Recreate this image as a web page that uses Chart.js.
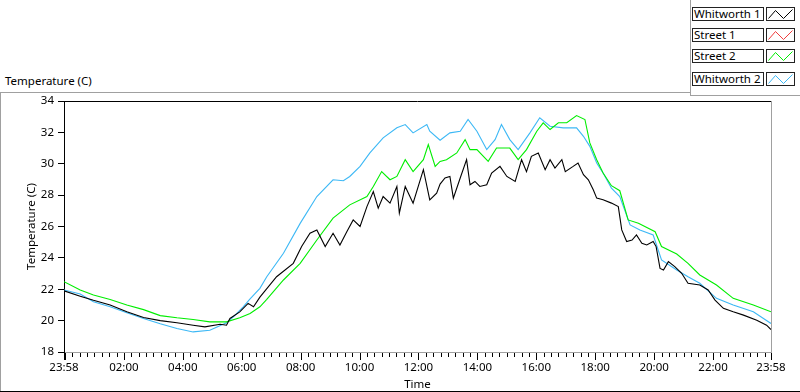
<!DOCTYPE html>
<html>
<head>
<meta charset="utf-8">
<script src="https://cdn.jsdelivr.net/npm/chart.js@4.4.1/dist/chart.umd.min.js"></script>
<style>
  body { margin: 0; background: #fff; font-family: "Noto Sans", sans-serif; font-size: 11.5px; color: #000; }
  #wrap { position: relative; width: 800px; height: 392px; overflow: hidden; }
  #wrap canvas { position: absolute; left: 0; top: 0; }
  .ln { position: absolute; }
  #caption { position: absolute; left: 5px; top: 74px; line-height: 14px; }
  .lgLabel { position: absolute; left: 692px; width: 69px; height: 12px; border: 1px solid #222; line-height: 12px; padding-left: 1px; box-sizing: content-box; white-space: nowrap; overflow: hidden; background: #fff; }
  .lgSwatch { position: absolute; left: 766px; width: 27px; height: 12px; border: 1px solid #222; background: #fff; }
</style>
</head>
<body>
<div id="wrap">
  <div class="ln" style="left:0;top:92px;width:690px;height:1px;background:#a0a0a0"></div>
  <div class="ln" style="left:0;top:92px;width:1px;height:299px;background:#a0a0a0"></div>
  <div class="ln" style="left:0;top:391px;width:800px;height:1px;background:#000"></div>
  <div class="ln" style="left:690px;top:0;width:1px;height:96px;background:#a0a0a0"></div>
  <div class="ln" style="left:690px;top:95px;width:110px;height:1px;background:#a0a0a0"></div>
  <div id="caption">Temperature (C)</div>
  <div id="legend"></div>
  <canvas id="chartTemp" width="800" height="392"></canvas>
</div>
<script>
// minutes after 23:58 (start of the record) and readings in deg C
const whitworth1Min = [0,33,60,94,128,162,196,230,263,287,318,331,338,358,375,386,399,433,467,484,501,515,532,548,562,576,589,603,617,630,640,650,664,678,683,695,711,732,745,759,766,776,786,793,807,820,827,837,847,861,871,888,902,919,932,942,952,966,980,990,1000,1014,1021,1037,1047,1058,1068,1078,1085,1098,1115,1129,1136,1146,1157,1166,1177,1187,1200,1206,1214,1221,1231,1244,1258,1271,1295,1312,1326,1343,1363,1384,1411,1431,1440]
const whitworth1Temp = [21.9,21.56,21.3,21.0,20.56,20.2,20.0,19.86,19.71,19.6,19.77,19.71,20.14,20.56,21.1,20.88,21.5,22.8,23.65,24.72,25.57,25.78,24.72,25.57,24.82,25.67,26.42,26.0,27.27,28.23,27.17,27.91,27.49,28.55,26.85,28.55,27.49,29.62,27.7,28.13,28.7,29.09,29.19,27.81,29.09,30.26,28.66,28.87,28.55,28.66,29.41,29.83,29.19,28.87,30.26,29.5,30.47,30.69,29.62,30.26,29.73,30.26,29.5,29.83,30.05,29.3,28.98,28.34,27.81,27.7,27.49,27.27,25.78,25.04,25.14,25.46,24.93,24.82,25.04,24.72,23.33,23.23,23.76,23.44,23.02,22.38,22.27,21.95,21.31,20.78,20.56,20.35,20.03,19.71,19.43]

// Street 1 has no trace in the plot
const street1Min = []
const street1Temp = []

const street2Min = [0,33,60,94,128,162,196,230,263,297,331,358,379,399,413,447,481,515,548,582,617,630,647,664,678,695,711,732,742,756,766,779,800,817,827,841,864,881,908,925,942,963,976,990,1007,1024,1044,1061,1071,1085,1098,1115,1132,1149,1170,1204,1217,1248,1271,1295,1329,1363,1404,1440]
const street2Temp = [22.48,21.95,21.63,21.35,21.0,20.7,20.32,20.18,20.07,19.92,19.92,20.18,20.46,20.88,21.35,22.59,23.65,25.14,26.53,27.38,27.91,28.55,29.5,28.98,29.19,30.26,29.5,30.26,31.22,29.83,30.15,30.26,30.69,31.54,30.9,30.9,30.15,31.0,31.0,30.26,30.9,32.07,32.61,32.18,32.61,32.61,33.07,32.82,31.33,30.26,29.41,28.6,28.28,26.42,26.21,25.67,24.72,24.25,23.65,22.91,22.27,21.42,21.0,20.56]

const whitworth2Min = [0,33,60,94,128,162,196,230,263,297,331,345,365,379,399,413,447,481,515,548,569,582,603,623,650,678,695,711,739,745,766,786,807,823,841,861,878,891,908,925,949,969,990,1017,1044,1058,1071,1085,1092,1098,1115,1132,1153,1173,1200,1217,1248,1271,1295,1329,1363,1404,1440]
const whitworth2Temp = [21.95,21.7,21.2,20.88,20.5,20.14,19.8,19.5,19.28,19.39,19.86,20.24,20.88,21.38,22.06,22.8,24.29,26.2,27.91,28.98,28.92,29.19,29.83,30.69,31.65,32.29,32.5,31.97,32.5,32.07,31.5,31.97,32.07,32.82,32.07,30.9,31.54,32.5,31.54,30.9,31.97,32.93,32.39,32.29,32.29,31.75,31.11,30.05,29.7,29.41,28.45,27.91,26.1,25.78,25.46,23.87,23.23,22.8,22.38,21.42,21.0,20.56,19.82]

const seriesNames = ['Whitworth 1','Street 1','Street 2','Whitworth 2']
const seriesColors = ['#000000','#f03c3c','#00ee00','#3cb8f5']

const xTickMinutes = [0,122,242,362,482,602,722,842,962,1082,1202,1322,1440]
const xTickLabels = ['23:58','02:00','04:00','06:00','08:00','10:00','12:00','14:00','16:00','18:00','20:00','22:00','23:58']
const yMin = 18, yMax = 34, yStep = 2

// 15 minute marks from 00:00 on; 00:00 itself is a long mark without a label
const xMinorMinutes = []
for (let m = 2; m < 1440; m += 15) xMinorMinutes.push(m)

function pts(mins, temps) {
  return mins.map((m, i) => ({x: m, y: temps[i]}))
}

const seriesData = [
  pts(whitworth1Min, whitworth1Temp),
  pts(street1Min, street1Temp),
  pts(street2Min, street2Temp),
  pts(whitworth2Min, whitworth2Temp)
]

// legend boxes, top right
const lgTops = [7, 28, 49, 72]
let lgHtml = ''
seriesNames.forEach((name, i) => {
  lgHtml += '<div class="lgLabel" style="top:' + lgTops[i] + 'px">' + name + '</div>'
  lgHtml += '<div class="lgSwatch" style="top:' + lgTops[i] + 'px"><svg width="27" height="12">' +
    '<polyline points="1.5,10.5 8.5,2.5 16.5,10.5 25.5,1.5" fill="none" stroke="' + seriesColors[i] + '" stroke-width="1"/></svg></div>'
})
document.getElementById('legend').innerHTML = lgHtml

const frameTicks = {
  id: 'frameTicks',
  afterDraw(chart) {
    const {ctx, chartArea: a, scales: {x}} = chart
    ctx.save()
    ctx.lineWidth = 1
    ctx.strokeStyle = '#000'
    ctx.beginPath()
    ctx.moveTo(a.left, a.top + 0.5)
    ctx.lineTo(a.right, a.top + 0.5)
    ctx.stroke()
    ctx.strokeStyle = '#a0a0a0'
    ctx.beginPath()
    ctx.moveTo(a.right + 0.5, a.top)
    ctx.lineTo(a.right + 0.5, a.bottom)
    ctx.stroke()
    ctx.strokeStyle = '#000'
    ctx.beginPath()
    xMinorMinutes.forEach(m => {
      const px = Math.round(x.getPixelForValue(m)) + 0.5
      const big = (m - 2) % 120 === 0
      ctx.moveTo(px, a.bottom + 1)
      ctx.lineTo(px, a.bottom + (big ? 8 : 5))
    })
    xTickMinutes.forEach(m => {
      const px = Math.round(x.getPixelForValue(m)) + 0.5
      ctx.moveTo(px, a.bottom + 1)
      ctx.lineTo(px, a.bottom + 8)
    })
    ctx.stroke()
    ctx.restore()
  }
}

Chart.defaults.font.family = '"Noto Sans", sans-serif'
Chart.defaults.font.size = 11.5
Chart.defaults.color = '#000'

new Chart(document.getElementById('chartTemp'), {
  type: 'line',
  data: {
    datasets: seriesData.map((d, i) => ({
      label: seriesNames[i],
      data: d,
      borderColor: seriesColors[i],
      borderWidth: 1.1,
      pointRadius: 0,
      tension: 0,
      fill: false
    }))
  },
  options: {
    responsive: false,
    animation: false,
    layout: { padding: { left: 0, top: 101, right: 29, bottom: 0 } },
    plugins: { legend: { display: false }, tooltip: { enabled: false } },
    scales: {
      x: {
        type: 'linear',
        min: 0,
        max: 1440,
        afterFit: s => { s.height = 40 },
        afterBuildTicks: s => { s.ticks = xTickMinutes.map(v => ({value: v})) },
        ticks: {
          autoSkip: false,
          maxRotation: 0,
          padding: 2,
          callback: (v, i) => xTickLabels[i]
        },
        grid: { display: true, drawOnChartArea: false, tickLength: 7, tickColor: 'rgba(0,0,0,0)' },
        border: { display: true, color: '#a0a0a0' },
        title: { display: true, text: 'Time', padding: { top: 0, bottom: 0 } }
      },
      y: {
        min: yMin,
        max: yMax,
        afterFit: s => { s.width = 64 },
        ticks: { stepSize: yStep, padding: 4 },
        grid: { display: true, drawOnChartArea: false, tickLength: 6, tickColor: '#000' },
        border: { display: true, color: '#000' },
        title: { display: true, text: 'Temperature (C)', padding: { top: 25, bottom: 0 } }
      }
    }
  },
  plugins: [frameTicks]
})
</script>
</body>
</html>
